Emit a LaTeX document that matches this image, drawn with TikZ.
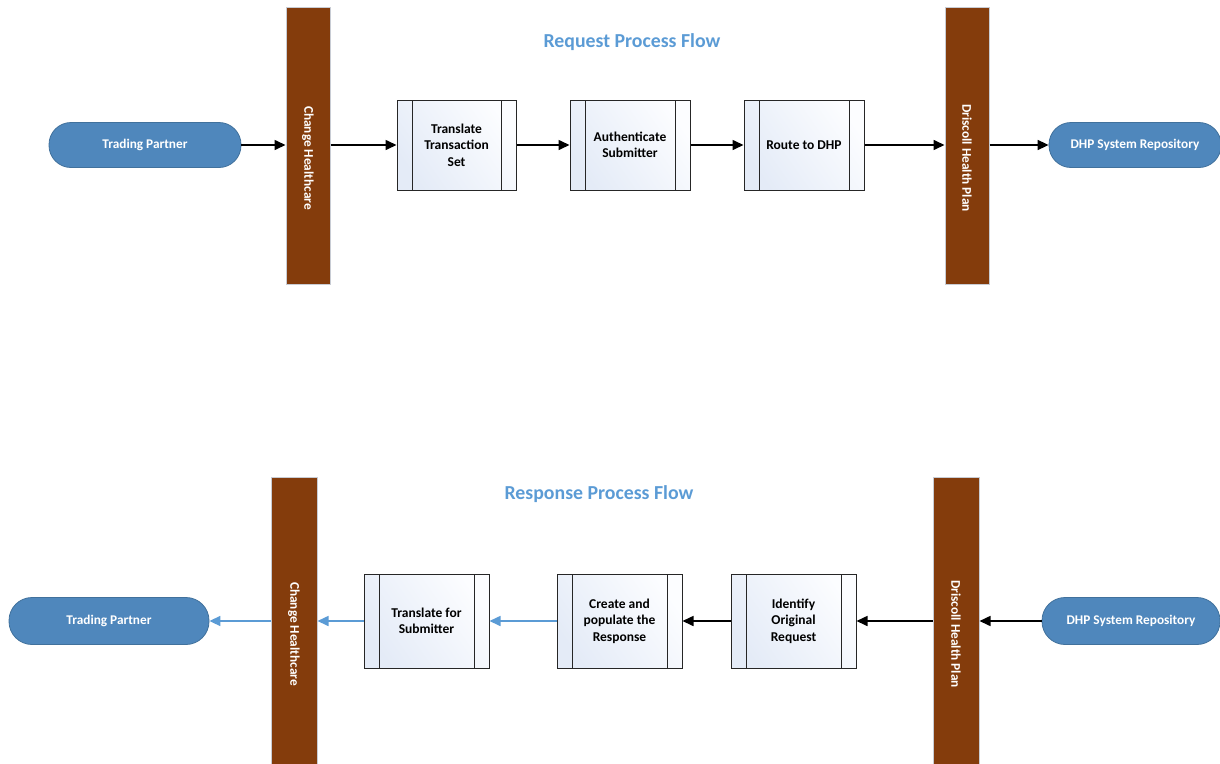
\documentclass[tikz,border=0pt]{standalone}
\usepackage{fontspec}
\setmainfont{Carlito}
\usetikzlibrary{arrows.meta}
\definecolor{termfill}{HTML}{4F87BC}
\definecolor{termline}{HTML}{41719C}
\definecolor{barbrown}{HTML}{843C0C}
\definecolor{bargray}{HTML}{C8CCD4}
\definecolor{titleblue}{HTML}{5B9BD5}
\definecolor{procblue}{HTML}{E4EBF7}
\definecolor{procend}{HTML}{FCFDFF}
\definecolor{procline}{HTML}{262626}
\definecolor{arrblue}{HTML}{5B9BD5}
\tikzset{
  term/.style={rectangle, rounded corners=22pt, fill=termfill, draw=termline, line width=0.8pt,
    text=white, font=\bfseries\fontsize{13.3}{16}\selectfont, minimum height=45pt, inner sep=0pt},
  bar/.style={rectangle, fill=barbrown, draw=bargray, line width=1pt, minimum width=44pt, inner sep=0pt},
  barlabel/.style={rotate=-90, text=white, font=\bfseries\fontsize{13.3}{16}\selectfont, inner sep=0pt},
  proc/.style={rectangle, draw=procline, line width=1pt, left color=procblue, right color=procend,
    shading angle=125,
    minimum width=120pt, minimum height=90pt, align=center, inner sep=0pt,
    font=\bfseries\fontsize{13.5}{16.5}\selectfont,
    path picture={\draw[procline, line width=0.9pt]
      ([xshift=15pt]path picture bounding box.north west) -- ([xshift=15pt]path picture bounding box.south west)
      ([xshift=-15pt]path picture bounding box.north east) -- ([xshift=-15pt]path picture bounding box.south east);}},
  flowtitle/.style={text=titleblue, font=\bfseries\fontsize{19.8}{23}\selectfont, inner sep=0pt},
  arr/.style={line width=1.6pt, draw=black, -{Triangle[length=11pt,width=10pt]}},
  barr/.style={line width=1.6pt, draw=arrblue, -{Triangle[length=11pt,width=10pt]}}
}
\begin{document}
\begin{tikzpicture}[x=1pt,y=-1pt]
\useasboundingbox (0,0) rectangle (1220,763);
\clip (0,0) rectangle (1220,763);

% ---------- Request flow ----------
\node[flowtitle] (title1) at (632,42) {Request Process Flow};
\node[term, minimum width=192pt] (tp1) at (145,145) {Trading Partner};
\node[bar, minimum height=277pt] (ch1) at (308,145.5) {};
\node[barlabel] (ch1l) at (308,158) {Change Healthcare};
\node[proc, minimum width=119pt] (p1) at (456.5,145) {Translate\\Transaction\\Set};
\node[proc] (p2) at (630,145) {Authenticate\\Submitter};
\node[proc] (p3) at (804,145) {Route to DHP};
\node[bar, minimum height=277pt] (dh1) at (967,145.5) {};
\node[barlabel] (dh1l) at (967,158) {Driscoll Health Plan};
\node[term, minimum width=172pt] (rep1) at (1135,145) {DHP System Repository};

\draw[arr] (tp1.east) -- (tp1.east -| ch1.west);
\draw[arr] (ch1.east |- p1.west) -- (p1.west);
\draw[arr] (p1.east) -- (p2.west);
\draw[arr] (p2.east) -- (p3.west);
\draw[arr] (p3.east) -- (p3.east -| dh1.west);
\draw[arr] (dh1.east |- rep1.west) -- (rep1.west);

% ---------- Response flow ----------
\node[flowtitle] (title2) at (599,494) {Response Process Flow};
\node[term, minimum width=200pt, minimum height=47pt, rounded corners=23pt] (tp2) at (109,621) {Trading Partner};
\node[bar, minimum width=46pt, minimum height=293pt] (ch2) at (294,623.5) {};
\node[barlabel] (ch2l) at (294,634) {Change Healthcare};
\node[proc, minimum width=125pt, minimum height=94pt] (p4) at (426.5,621) {Translate for\\Submitter};
\node[proc, minimum width=125pt, minimum height=94pt] (p5) at (619.5,621) {Create and\\populate the\\Response};
\node[proc, minimum width=125pt, minimum height=94pt] (p6) at (793.5,621) {Identify\\Original\\Request};
\node[bar, minimum width=46pt, minimum height=293pt] (dh2) at (956,623.5) {};
\node[barlabel] (dh2l) at (956,634) {Driscoll Health Plan};
\node[term, minimum width=178pt, minimum height=47pt, rounded corners=23pt] (rep2) at (1131,621) {DHP System Repository};

\draw[arr] (rep2.west) -- (rep2.west -| dh2.east);
\draw[arr] (dh2.west |- p6.east) -- (p6.east);
\draw[arr] (p6.west) -- (p5.east);
\draw[barr] (p5.west) -- (p4.east);
\draw[barr] (p4.west) -- (p4.west -| ch2.east);
\draw[barr] (ch2.west |- tp2.east) -- (tp2.east);
\end{tikzpicture}
\end{document}
